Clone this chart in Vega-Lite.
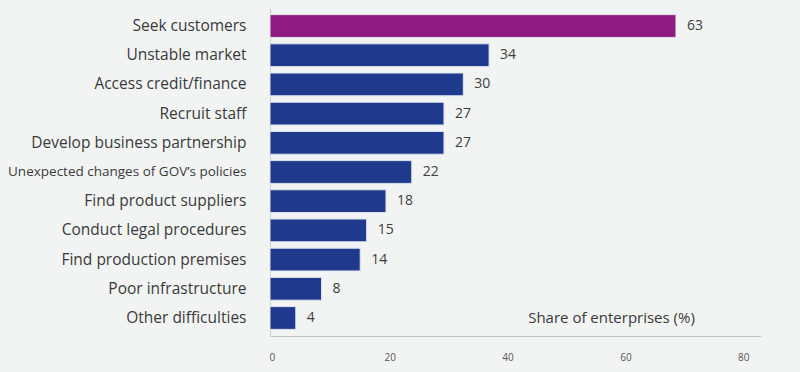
{
  "$schema": "https://vega.github.io/schema/vega-lite/v6.json",
  "width": 491,
  "height": 328,
  "autosize": {"type": "none"},
  "padding": {"left": 270, "top": 8, "right": 39, "bottom": 36},
  "background": "#f2f4f4",
  "config": {"view": {"stroke": null}, "font": "Open Sans"},
  "data": {
    "values": [
      {"difficulty": "Seek customers", "share": 63, "highlight": "yes"},
      {"difficulty": "Unstable market", "share": 34, "highlight": "no"},
      {"difficulty": "Access credit/finance", "share": 30, "highlight": "no"},
      {"difficulty": "Recruit staff", "share": 27, "highlight": "no"},
      {"difficulty": "Develop business partnership", "share": 27, "highlight": "no"},
      {"difficulty": "Unexpected changes of GOV’s policies", "share": 22, "highlight": "no"},
      {"difficulty": "Find product suppliers", "share": 18, "highlight": "no"},
      {"difficulty": "Conduct legal procedures", "share": 15, "highlight": "no"},
      {"difficulty": "Find production premises", "share": 14, "highlight": "no"},
      {"difficulty": "Poor infrastructure", "share": 8, "highlight": "no"},
      {"difficulty": "Other difficulties", "share": 4, "highlight": "no"}
    ]
  },
  "resolve": {"scale": {"x": "independent"}, "axis": {"x": "independent"}},
  "layer": [
    {
      "layer": [
        {
          "mark": {"type": "bar", "stroke": "#dfe3ec", "strokeWidth": 1},
          "encoding": {
            "y": {
              "field": "difficulty", "type": "nominal", "sort": null,
              "scale": {"paddingInner": 0.22, "paddingOuter": 0.227},
              "axis": {
                "title": null, "ticks": false, "labelPadding": 24,
                "labelFontSize": {"condition": {"test": "datum.value == 'Unexpected changes of GOV’s policies'", "value": 13.5}, "value": 15.5},
                "labelColor": "#3a3a3a", "labelLimit": 300,
                "domainColor": "#d0d0d0", "grid": false
              }
            },
            "x": {
              "field": "share", "type": "quantitative",
              "scale": {"domain": [0, 76.2], "nice": false},
              "axis": null
            },
            "color": {
              "field": "highlight", "type": "nominal",
              "scale": {"domain": ["yes", "no"], "range": ["#8e1b80", "#1f3a8c"]},
              "legend": null
            }
          }
        },
        {
          "mark": {"type": "text", "align": "left", "dx": 11, "fontSize": 14, "color": "#404040"},
          "encoding": {
            "y": {"field": "difficulty", "type": "nominal", "sort": null},
            "x": {"field": "share", "type": "quantitative"},
            "text": {"field": "share", "type": "quantitative"}
          }
        },
        {
          "data": {"values": [{"label": "Share of enterprises (%)", "difficulty": "Other difficulties", "pos": 53}]},
          "mark": {"type": "text", "align": "center", "fontSize": 15, "fontWeight": "normal", "color": "#3a3a3a"},
          "encoding": {
            "y": {"field": "difficulty", "type": "nominal", "sort": null},
            "x": {"field": "pos", "type": "quantitative"},
            "text": {"field": "label", "type": "nominal"}
          }
        }
      ]
    },
    {
      "mark": {"type": "rule", "opacity": 0},
      "encoding": {
        "x": {
          "field": "share", "type": "quantitative",
          "scale": {"domain": [-0.3, 83], "nice": false, "zero": false},
          "axis": {
            "orient": "bottom", "title": null, "values": [0, 20, 40, 60, 80],
            "ticks": false, "grid": false, "labelPadding": 16,
            "labelFontSize": 10, "labelColor": "#555555",
            "domainColor": "#c4c4c4"
          }
        }
      }
    }
  ]
}
